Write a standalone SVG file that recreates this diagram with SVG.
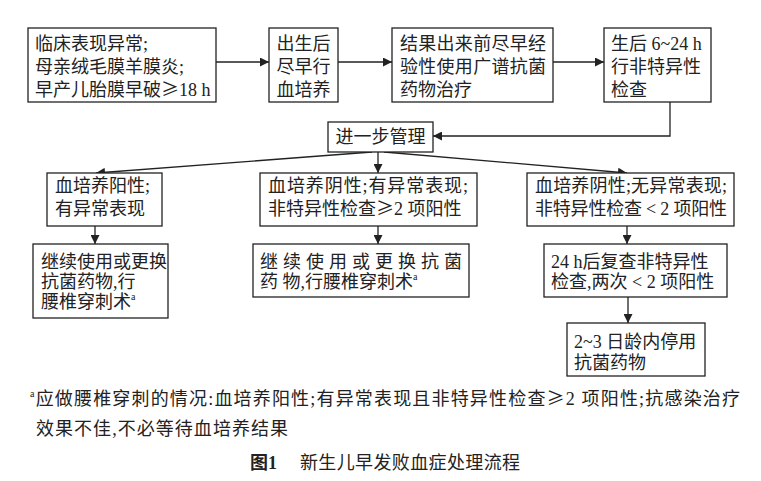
<svg xmlns="http://www.w3.org/2000/svg" width="761" height="481" viewBox="0 0 761 481">
<style>
.box{fill:#fff;stroke:#222;stroke-width:1.3}
.t{font-family:"Liberation Serif","Noto Sans CJK SC",serif;font-size:18px;fill:#222}
.f{font-family:"Liberation Serif","Noto Sans CJK SC",serif;font-size:18px;fill:#222}
.c{stroke:#222;stroke-width:1.3;fill:none}
.sup{font-size:10px}
.ge{font-family:"Noto Sans CJK SC",sans-serif}
</style>
<defs>
<marker id="ah" viewBox="0 0 10 10" refX="10" refY="5" markerWidth="9" markerHeight="9" markerUnits="userSpaceOnUse" orient="auto">
<path d="M0,0 L10,5 L0,10 z" fill="#222"/>
</marker>
</defs>
<rect width="761" height="481" fill="#fff"/>
<g id="connectors">
<line class="c" x1="216" y1="62" x2="269" y2="62" marker-end="url(#ah)"/>
<line class="c" x1="338" y1="62" x2="392" y2="62" marker-end="url(#ah)"/>
<line class="c" x1="553" y1="62" x2="604" y2="62" marker-end="url(#ah)"/>
<polyline class="c" points="670,102 670,136 433,136" marker-end="url(#ah)"/>
<line class="c" x1="372" y1="152" x2="96" y2="173" marker-end="url(#ah)"/>
<line class="c" x1="378" y1="152" x2="378" y2="173" marker-end="url(#ah)"/>
<line class="c" x1="384" y1="152" x2="627" y2="173" marker-end="url(#ah)"/>
<line class="c" x1="95" y1="226" x2="95" y2="244" marker-end="url(#ah)"/>
<line class="c" x1="378" y1="226" x2="378" y2="244" marker-end="url(#ah)"/>
<line class="c" x1="627" y1="226" x2="627" y2="244" marker-end="url(#ah)"/>
<line class="c" x1="628" y1="297" x2="628" y2="323" marker-end="url(#ah)"/>
</g>
<g id="n1">
<rect class="box" x="28" y="28" width="188" height="74"/>
<text class="t" x="35" y="50">临床表现异常;</text>
<text class="t" x="35" y="73">母亲绒毛膜羊膜炎;</text>
<text class="t" x="35" y="96">早产儿胎膜早破<tspan class="ge">≥</tspan>18 h</text>
</g>
<g id="n2">
<rect class="box" x="269" y="28" width="69" height="74"/>
<text class="t" x="303.5" y="50" text-anchor="middle">出生后</text>
<text class="t" x="303.5" y="73" text-anchor="middle">尽早行</text>
<text class="t" x="303.5" y="96" text-anchor="middle">血培养</text>
</g>
<g id="n3">
<rect class="box" x="392" y="28" width="161" height="74"/>
<text class="t" x="400" y="50" textLength="146">结果出来前尽早经</text>
<text class="t" x="400" y="73" textLength="146">验性使用广谱抗菌</text>
<text class="t" x="400" y="96">药物治疗</text>
</g>
<g id="n4">
<rect class="box" x="604" y="28" width="107" height="74"/>
<text class="t" x="611" y="50">生后 6~24 h</text>
<text class="t" x="611" y="73">行非特异性</text>
<text class="t" x="611" y="96">检查</text>
</g>
<g id="n5">
<rect class="box" x="328" y="122" width="105" height="30"/>
<text class="t" x="380.5" y="143" text-anchor="middle">进一步管理</text>
</g>
<g id="n6">
<rect class="box" x="47" y="173" width="115" height="53"/>
<text class="t" x="55" y="192">血培养阳性;</text>
<text class="t" x="55" y="215">有异常表现</text>
</g>
<g id="n7">
<rect class="box" x="260" y="173" width="217" height="53"/>
<text class="t" x="268" y="192" textLength="200">血培养阴性;有异常表现;</text>
<text class="t" x="268" y="215">非特异性检查<tspan class="ge">≥</tspan>2 项阳性</text>
</g>
<g id="n8">
<rect class="box" x="527" y="173" width="207" height="53"/>
<text class="t" x="535" y="192" textLength="192">血培养阴性;无异常表现;</text>
<text class="t" x="535" y="215" textLength="192">非特异性检查 &lt; 2 项阳性</text>
</g>
<g id="n9">
<rect class="box" x="33" y="244" width="135" height="74"/>
<text class="t" x="41" y="268">继续使用或更换</text>
<text class="t" x="41" y="288">抗菌药物,行</text>
<text class="t" x="41" y="308">腰椎穿刺术<tspan class="sup" dy="-8">a</tspan></text>
</g>
<g id="n10">
<rect class="box" x="253" y="244" width="216" height="53"/>
<text class="t" x="260" y="268" textLength="202">继续使用或更换抗菌</text>
<text class="t" x="260" y="288">药 物,行腰椎穿刺术<tspan class="sup" dy="-8">a</tspan></text>
</g>
<g id="n11">
<rect class="box" x="544" y="244" width="183" height="53"/>
<text class="t" x="551" y="268">24 h后复查非特异性</text>
<text class="t" x="551" y="288">检查,两次 &lt; 2 项阳性</text>
</g>
<g id="n12">
<rect class="box" x="567" y="323" width="138" height="53"/>
<text class="t" x="574" y="348">2~3 日龄内停用</text>
<text class="t" x="574" y="369">抗菌药物</text>
</g>
<g id="notes">
<text class="f" x="30" y="405" textLength="710"><tspan class="sup" dy="-8">a</tspan><tspan dy="8">应做腰椎穿刺的情况:血培养阳性;有异常表现且非特异性检查</tspan><tspan class="ge">≥</tspan>2 项阳性;抗感染治疗</text>
<text class="f" x="36" y="435" textLength="252">效果不佳,不必等待血培养结果</text>
<text class="f" x="250" y="469" font-size="17" font-weight="bold">图1</text>
<text class="f" x="300" y="469" font-size="17" textLength="220">新生儿早发败血症处理流程</text>
</g>
</svg>
